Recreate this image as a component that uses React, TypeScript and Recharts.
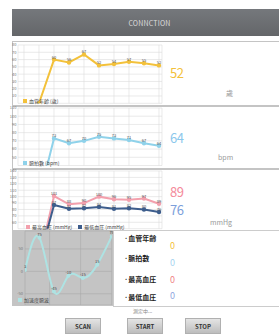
import React from 'react';
import { LineChart, Line, XAxis, YAxis, CartesianGrid, Legend, LabelList } from 'recharts';

const xIndex = [2, 3, 4, 5, 6, 7, 8, 9, 10];
const vesselAge = [0, 60, 56, 67, 52, 54, 57, 55, 52];
const pulseRate = [0, 73, 67, 70, 75, 73, 71, 67, 64];
const systolic = [0, 101, 88, 90, 100, 96, 95, 97, 89];
const diastolic = [0, 87, 81, 82, 84, 81, 82, 80, 76];
const gridTicks = [1, 2, 3, 4, 5, 6, 7, 8, 9, 10];
const ageTicks = [10, 20, 30, 40, 50, 60, 70, 80];
const pulseTicks = [50, 60, 70, 80, 90, 100, 110];
const bpTicks = [60, 70, 80, 90, 100, 110, 120, 130, 140];
const waveX = [0, 1, 2, 3, 4, 5, 6];
const waveValues = [3, 75, -45, -10, -15, 15, 78];
const waveTicks = [-50, 0, 50];
const waveGridX = [1.7, 3.85, 6];
const legendOrder = ['v', 's', 'd'];

const ORANGE = '#f3c13a';
const LBLUE = '#8fd2ea';
const PINK = '#f3a0ad';
const DBLUE = '#3d5d8c';

const ageData = xIndex.map((x, i) => ({ x, v: vesselAge[i] }));
const pulseData = xIndex.map((x, i) => ({ x, v: pulseRate[i] }));
const bpData = xIndex.map((x, i) => ({ x, s: systolic[i], d: diastolic[i] }));
const waveData = waveX.map((x, i) => ({ x, v: waveValues[i] }));

const fmt = (v: any) => (v === 0 ? '' : String(v));

const LegendBox = (props: any) => {
  const payload = [...(props.payload || [])].sort(
    (a: any, b: any) => legendOrder.indexOf(a.dataKey) - legendOrder.indexOf(b.dataKey)
  );
  return (
    <div style={{ display: 'flex', alignItems: 'center', fontSize: 5, color: '#444', whiteSpace: 'nowrap' }}>
      {payload.map((p: any, i: number) => (
        <span key={i} style={{ display: 'inline-flex', alignItems: 'center', marginRight: 6 }}>
          <span style={{ display: 'inline-block', width: 4, height: 4, background: p.color, marginRight: 2 }} />
          {p.value}
        </span>
      ))}
    </div>
  );
};

const tickStyle = { fontSize: 4, fill: '#777' };

const abs = (left: number, top: number, extra: any = {}) => ({ position: 'absolute' as const, left, top, ...extra });

export default function App() {
  return (
    <div style={{ position: 'absolute', left: 0, top: 0, width: 279, height: 336, background: '#fff', overflow: 'hidden', fontFamily: "'Noto Sans CJK JP', 'Noto Sans', sans-serif" }}>
      {/* header */}
      <div style={abs(12, 9, { width: 267, height: 27, background: 'linear-gradient(#75787c, #646669)', color: '#dcdcdc', fontSize: 7, display: 'flex', alignItems: 'center', justifyContent: 'center', paddingLeft: 8, boxSizing: 'border-box', letterSpacing: 0.2 })}>CONNCTION</div>

      {/* panels */}
      <div style={abs(12, 41, { width: 266, height: 63, border: '1px solid #c4c4c4', borderRight: 'none' })} />
      <div style={abs(12, 106, { width: 266, height: 61, border: '1px solid #c4c4c4', borderRight: 'none' })} />
      <div style={abs(12, 169, { width: 266, height: 60, border: '1px solid #c4c4c4', borderRight: 'none' })} />

      {/* chart 1 */}
      <div style={abs(0, 42)}>
        <LineChart width={170} height={64} data={ageData} margin={{ top: 3, right: 8, bottom: 2.7, left: 0 }}>
          <CartesianGrid stroke="#dcdcdc" strokeWidth={0.6} />
          <XAxis dataKey="x" type="number" domain={[0.6, 10.2]} ticks={gridTicks} hide allowDataOverflow />
          <YAxis type="number" domain={[0, 80]} ticks={ageTicks} width={18} tick={tickStyle} tickLine={false} tickSize={0} tickMargin={1.5} axisLine={false} allowDataOverflow interval={0} />
          <Line dataKey="v" name="血管年齡 (歲)" stroke={ORANGE} strokeWidth={2} dot={{ r: 1.2, fill: ORANGE, stroke: ORANGE }} isAnimationActive={false}>
            <LabelList dataKey="v" position="top" offset={1} formatter={fmt} style={{ fontSize: 4, fill: '#555' }} />
          </Line>
          <Legend layout="horizontal" verticalAlign="middle" align="center" content={<LegendBox />} wrapperStyle={{ left: 23, top: 55, width: 'auto' }} />
        </LineChart>
      </div>

      {/* chart 2 */}
      <div style={abs(0, 105)}>
        <LineChart width={170} height={62} data={pulseData} margin={{ top: 3, right: 8, bottom: 1.5, left: 0 }}>
          <CartesianGrid stroke="#dcdcdc" strokeWidth={0.6} />
          <XAxis dataKey="x" type="number" domain={[0.6, 10.2]} ticks={gridTicks} hide allowDataOverflow />
          <YAxis type="number" domain={[40, 110]} ticks={pulseTicks} width={18} tick={tickStyle} tickLine={false} tickSize={0} tickMargin={1.5} axisLine={false} allowDataOverflow interval={0} />
          <Line dataKey="v" name="脈拍數 (bpm)" stroke={LBLUE} strokeWidth={2} dot={{ r: 1.2, fill: LBLUE, stroke: LBLUE }} isAnimationActive={false}>
            <LabelList dataKey="v" position="top" offset={1} formatter={fmt} style={{ fontSize: 4, fill: '#555' }} />
          </Line>
          <Legend layout="horizontal" verticalAlign="middle" align="center" content={<LegendBox />} wrapperStyle={{ left: 23, top: 54, width: 'auto' }} />
        </LineChart>
      </div>

      {/* chart 3 */}
      <div style={abs(0, 168)}>
        <LineChart width={170} height={62} data={bpData} margin={{ top: 3, right: 8, bottom: 1.3, left: 0 }}>
          <CartesianGrid stroke="#dcdcdc" strokeWidth={0.6} />
          <XAxis dataKey="x" type="number" domain={[0.6, 10.2]} ticks={gridTicks} hide allowDataOverflow />
          <YAxis type="number" domain={[50, 140]} ticks={bpTicks} width={18} tick={tickStyle} tickLine={false} tickSize={0} tickMargin={1.5} axisLine={false} allowDataOverflow interval={0} />
          <Line dataKey="s" name="最高血圧 (mmHg)" stroke={PINK} strokeWidth={2} dot={{ r: 1.2, fill: PINK, stroke: PINK }} isAnimationActive={false}>
            <LabelList dataKey="s" position="top" offset={1} formatter={fmt} style={{ fontSize: 4, fill: '#555' }} />
          </Line>
          <Line dataKey="d" name="最低血圧 (mmHg)" stroke={DBLUE} strokeWidth={2} dot={{ r: 1.2, fill: DBLUE, stroke: DBLUE }} isAnimationActive={false}>
            <LabelList dataKey="d" position="top" offset={1} formatter={fmt} style={{ fontSize: 4, fill: '#555' }} />
          </Line>
          <Legend layout="horizontal" verticalAlign="middle" align="center" content={<LegendBox />} wrapperStyle={{ left: 26, top: 55, width: 'auto' }} />
        </LineChart>
      </div>

      {/* right values */}
      <div style={abs(170, 66, { fontSize: 13, color: ORANGE, lineHeight: '13px', letterSpacing: -0.5 })}>52</div>
      <div style={abs(170, 131, { fontSize: 13, color: '#8cc8ec', lineHeight: '13px', letterSpacing: -0.5 })}>64</div>
      <div style={abs(170, 185, { fontSize: 13, color: '#f48b9b', lineHeight: '13px', letterSpacing: -0.5 })}>89</div>
      <div style={abs(170, 203, { fontSize: 13, color: '#7d9fdb', lineHeight: '13px', letterSpacing: -0.5 })}>76</div>
      <div style={abs(226, 89, { fontSize: 7, color: '#999', lineHeight: '8px' })}>歲</div>
      <div style={abs(218, 153, { fontSize: 7, color: '#999', lineHeight: '8px' })}>bpm</div>
      <div style={abs(210, 218, { fontSize: 7, color: '#999', lineHeight: '8px' })}>mmHg</div>

      {/* chart 4 */}
      <div style={abs(12, 230, { width: 101, height: 76, background: '#c4c4c4' })} />
      <div style={abs(113, 230, { width: 165, height: 75, borderTop: '1px solid #ccc', borderBottom: '1px solid #ccc', borderLeft: '1px solid #ccc' })} />
      <div style={abs(13, 230)}>
        <LineChart width={100} height={75} data={waveData} margin={{ top: 1, right: 1.3, bottom: 0, left: 0 }}>
          <CartesianGrid stroke="#a9a9a9" strokeWidth={0.6} />
          <XAxis dataKey="x" type="number" domain={[0, 6]} ticks={waveGridX} hide allowDataOverflow />
          <YAxis type="number" domain={[-75, 90]} ticks={waveTicks} width={12} tick={tickStyle} tickLine={false} tickSize={0} tickMargin={2} axisLine={false} allowDataOverflow interval={0} />
          <Line dataKey="v" name="加速度脈波" type="natural" stroke="#aee3e3" strokeWidth={2} dot={{ r: 1, fill: '#aee3e3', stroke: '#aee3e3' }} isAnimationActive={false}>
            <LabelList dataKey="v" position="top" offset={2} style={{ fontSize: 4, fill: '#444' }} />
          </Line>
          <Legend layout="horizontal" verticalAlign="middle" align="center" content={<LegendBox />} wrapperStyle={{ left: 5, top: 66, width: 'auto' }} />
        </LineChart>
      </div>

      {/* right labels */}
      <div style={abs(124, 234, { fontSize: 7, fontWeight: 700, color: '#222', lineHeight: '8px' })}>·血管年齡</div>
      <div style={abs(124, 254, { fontSize: 7, fontWeight: 700, color: '#222', lineHeight: '8px' })}>·脈拍數</div>
      <div style={abs(124, 275, { fontSize: 7, fontWeight: 700, color: '#222', lineHeight: '8px' })}>·最高血圧</div>
      <div style={abs(124, 293, { fontSize: 7, fontWeight: 700, color: '#222', lineHeight: '8px' })}>·最低血圧</div>
      <div style={abs(170, 241, { fontSize: 9, color: ORANGE, lineHeight: '10px' })}>0</div>
      <div style={abs(170, 258, { fontSize: 9, color: '#a6d4f0', lineHeight: '10px' })}>0</div>
      <div style={abs(170, 275, { fontSize: 9, color: '#f08585', lineHeight: '10px' })}>0</div>
      <div style={abs(170, 291, { fontSize: 9, color: '#8fa8e0', lineHeight: '10px' })}>0</div>

      <div style={abs(133, 308, { fontSize: 5, color: '#888', lineHeight: '6px' })}>測定中...</div>

      {/* buttons */}
      {[['SCAN', 65], ['START', 127], ['STOP', 185]].map(([t, l]) => (
        <div key={t as string} style={abs(l as number, 318, { width: 36, height: 16, background: 'linear-gradient(#e4e4e4, #bdbdbd)', border: '1px solid #b0b0b0', boxSizing: 'border-box', fontSize: 6, fontWeight: 700, color: '#333', display: 'flex', alignItems: 'center', justifyContent: 'center' })}>{t}</div>
      ))}
    </div>
  );
}
